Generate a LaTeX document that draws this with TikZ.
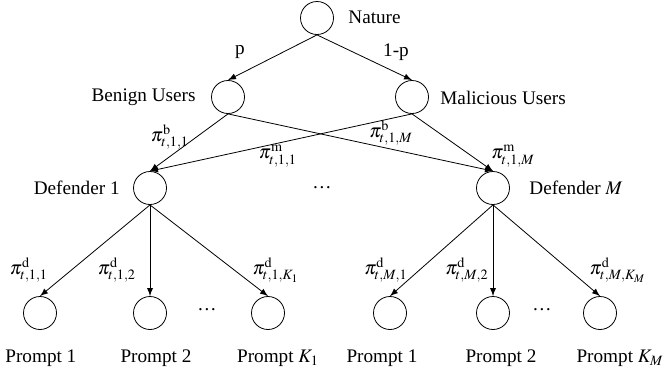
\documentclass[tikz,border=0pt]{standalone}
\usepackage{amsmath}
\usepackage{mathptmx}
\usepackage[no-math]{fontspec}
\setmainfont{Liberation Serif}
\usetikzlibrary{positioning, arrows}

\begin{document}
\begin{tikzpicture}[x=0.5pt,y=-0.5pt,font=\fontsize{9.6}{11}\selectfont]
\tikzstyle{state}=[draw,shape=circle,minimum size=16.5pt,inner sep=0pt];
\tikzstyle{lbl}=[inner sep=1pt];
\useasboundingbox (0,0) rectangle (667,381);
% tree nodes
\path (317,18) node[state] (nat) {};
\path (228,97) node[state] (ben) {};
\path (412,97) node[state] (mal) {};
\path (150,188) node[state] (def1) {};
\path (493,188) node[state] (defM) {};
\path (40,313) node[state] (p11) {};
\path (150,313) node[state] (p12) {};
\path (268,313) node[state] (p1K) {};
\path (390,313) node[state] (pM1) {};
\path (493,313) node[state] (pM2) {};
\path (600,313) node[state] (pMK) {};
% names
\path (346,17) node[lbl,anchor=west] (natname) {Nature};
\path (198,97) node[lbl,anchor=east] (benname) {Benign Users};
\path (438,98) node[lbl,anchor=west] (malname) {Malicious Users};
\path (122,188) node[lbl,anchor=east] (def1name) {Defender 1};
\path (527,188) node[lbl,anchor=west] (defMname) {Defender $M$};
\path (3,358) node[lbl,anchor=west] (p11name) {Prompt 1};
\path (156,358) node[lbl] (p12name) {Prompt 2};
\path (278,358) node[lbl] (p1Kname) {Prompt $K_1$};
\path (382,358) node[lbl] (pM1name) {Prompt 1};
\path (501,358) node[lbl] (pM2name) {Prompt 2};
\path (666,358) node[lbl,anchor=east] (pMKname) {Prompt $K_M$};
\path (322,188) node[lbl] (dots) {\dots};
\path (207,310) node[lbl] (dots1) {\dots};
\path (542,310) node[lbl] (dotsM) {\dots};
% probabilities
\path (240,52) node[lbl] (pl) {p};
\path (396,52) node[lbl] (pr) {1-p};
\path (170,137) node[lbl] (b11) {$\pi^{\mathrm{b}}_{t,1,1}$};
\path (278,156) node[lbl] (m11) {$\pi^{\mathrm{m}}_{t,1,1}$};
\path (391,133) node[lbl] (b1M) {$\pi^{\mathrm{b}}_{t,1,M}$};
\path (513,156) node[lbl] (m1M) {$\pi^{\mathrm{m}}_{t,1,M}$};
\path (29,270) node[lbl] (d11) {$\pi^{\mathrm{d}}_{t,1,1}$};
\path (117,270) node[lbl] (d12) {$\pi^{\mathrm{d}}_{t,1,2}$};
\path (276,270) node[lbl] (d1K) {$\pi^{\mathrm{d}}_{t,1,K_1}$};
\path (386,270) node[lbl] (dM1) {$\pi^{\mathrm{d}}_{t,M,1}$};
\path (467,270) node[lbl] (dM2) {$\pi^{\mathrm{d}}_{t,M,2}$};
\path (618,270) node[lbl] (dMK) {$\pi^{\mathrm{d}}_{t,M,K_M}$};
\draw [-latex] (nat.south) -- (ben.north);
\draw [-latex] (nat.south) -- (mal.north);
\draw [-latex] (ben.south) -- (def1.north);
\draw [-latex] (ben.south) -- (defM.north);
\draw [-latex] (mal.south) -- (def1.north);
\draw [-latex] (mal.south) -- (defM.north);
\draw [-latex] (def1.south) -- (p11.north);
\draw [-latex] (def1.south) -- (p12.north);
\draw [-latex] (def1.south) -- (p1K.north);
\draw [-latex] (defM.south) -- (pM1.north);
\draw [-latex] (defM.south) -- (pM2.north);
\draw [-latex] (defM.south) -- (pMK.north);
\end{tikzpicture}
\end{document}
